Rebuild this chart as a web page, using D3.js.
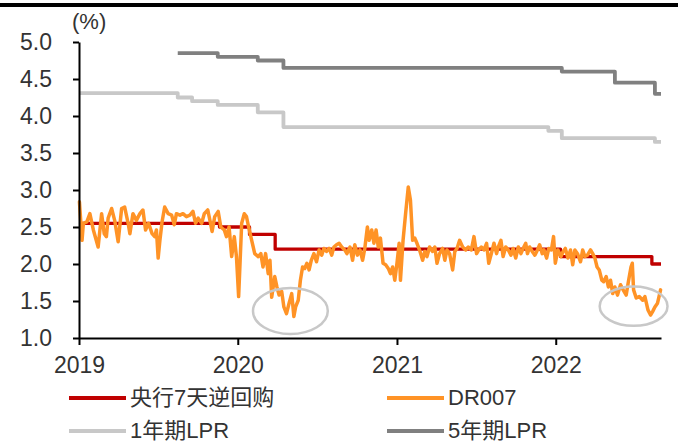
<!DOCTYPE html>
<html>
<head>
<meta charset="utf-8">
<script src="https://cdn.jsdelivr.net/npm/d3@7"></script>
<style>
  html, body { margin: 0; padding: 0; background: #fff; }
  svg { display: block; }
  text { font-family: "Liberation Sans", Arial, "Noto Sans CJK SC", sans-serif; }
</style>
</head>
<body>
<svg id="chart" width="678" height="448"></svg>
<script>
// ---- data -------------------------------------------------------------
const yTickValues = [1.0, 1.5, 2.0, 2.5, 3.0, 3.5, 4.0, 4.5, 5.0];
const xTickYears = ["2019-01-01", "2020-01-01", "2021-01-01", "2022-01-01"];
const xDomain = ["2019-01-01", "2022-08-31"];

// policy rates: [effective date, rate]; last row closes the step at the end of the range
const repo7d = [
  ["2019-01-01", 2.55], ["2019-11-20", 2.50], ["2020-01-28", 2.40],
  ["2020-03-27", 2.20], ["2022-01-12", 2.10], ["2022-08-10", 2.00],
  ["2022-08-31", 2.00]
];
const lpr1y = [
  ["2019-01-01", 4.31], ["2019-08-16", 4.25], ["2019-09-18", 4.20],
  ["2019-11-16", 4.15], ["2020-02-16", 4.05], ["2020-04-15", 3.85],
  ["2021-12-15", 3.80], ["2022-01-15", 3.70], ["2022-08-17", 3.65],
  ["2022-08-31", 3.65]
];
const lpr5y = [
  ["2019-08-16", 4.85], ["2019-11-16", 4.80], ["2020-02-16", 4.75],
  ["2020-04-15", 4.65], ["2022-01-15", 4.60], ["2022-05-17", 4.45],
  ["2022-08-17", 4.30], ["2022-08-31", 4.30]
];

// DR007, weekly observations
const dr007 = [
  ["2019-01-02",2.84],["2019-01-08",2.32],["2019-01-11",2.55],["2019-01-19",2.57],
  ["2019-01-26",2.68],["2019-02-03",2.46],["2019-02-14",2.23],["2019-02-22",2.68],
  ["2019-02-28",2.41],["2019-03-05",2.37],["2019-03-09",2.62],["2019-03-17",2.75],
  ["2019-03-24",2.59],["2019-04-01",2.30],["2019-04-09",2.75],["2019-04-16",2.77],
  ["2019-04-24",2.55],["2019-04-28",2.41],["2019-05-05",2.68],["2019-05-13",2.59],
  ["2019-05-21",2.68],["2019-05-28",2.73],["2019-06-03",2.46],["2019-06-10",2.55],
  ["2019-06-18",2.41],["2019-06-24",2.37],["2019-06-28",2.46],["2019-07-02",2.08],
  ["2019-07-06",2.32],["2019-07-11",2.57],["2019-07-17",2.77],["2019-07-25",2.68],
  ["2019-08-02",2.66],["2019-08-08",2.53],["2019-08-13",2.68],["2019-08-21",2.66],
  ["2019-08-28",2.68],["2019-09-05",2.64],["2019-09-13",2.66],["2019-09-20",2.71],
  ["2019-09-26",2.55],["2019-10-02",2.62],["2019-10-10",2.55],["2019-10-16",2.68],
  ["2019-10-24",2.73],["2019-10-29",2.59],["2019-11-03",2.44],["2019-11-09",2.64],
  ["2019-11-17",2.71],["2019-11-23",2.50],["2019-12-01",2.46],["2019-12-06",2.37],
  ["2019-12-12",2.50],["2019-12-18",2.10],["2019-12-24",2.37],["2019-12-29",2.10],
  ["2020-01-03",1.56],["2020-01-10",2.55],["2020-01-16",2.68],["2020-01-21",2.64],
  ["2020-01-26",2.50],["2020-02-02",2.32],["2020-02-09",2.14],["2020-02-17",2.10],
  ["2020-02-23",2.14],["2020-02-28",1.96],["2020-03-05",2.14],["2020-03-11",1.87],
  ["2020-03-15",2.05],["2020-03-19",1.55],["2020-03-26",1.83],["2020-03-31",1.69],
  ["2020-04-05",1.58],["2020-04-11",1.63],["2020-04-16",1.42],["2020-04-22",1.33],
  ["2020-04-28",1.47],["2020-05-04",1.60],["2020-05-09",1.29],["2020-05-13",1.42],
  ["2020-05-19",1.51],["2020-05-24",1.78],["2020-05-29",1.96],["2020-06-03",1.94],
  ["2020-06-08",2.01],["2020-06-13",1.92],["2020-06-18",2.05],["2020-06-24",2.14],
  ["2020-06-30",2.03],["2020-07-06",2.19],["2020-07-12",2.12],["2020-07-17",2.21],
  ["2020-07-23",2.17],["2020-07-29",2.21],["2020-08-04",2.12],["2020-08-09",2.23],
  ["2020-08-15",2.26],["2020-08-21",2.28],["2020-08-27",2.23],["2020-09-03",2.19],
  ["2020-09-08",2.14],["2020-09-15",2.23],["2020-09-21",2.05],["2020-09-26",2.26],
  ["2020-10-02",2.12],["2020-10-08",2.19],["2020-10-14",2.05],["2020-10-19",2.21],
  ["2020-10-25",2.50],["2020-10-29",2.32],["2020-11-04",2.46],["2020-11-09",2.28],
  ["2020-11-14",2.46],["2020-11-19",2.23],["2020-11-24",2.35],["2020-11-30",2.01],
  ["2020-12-06",1.99],["2020-12-12",1.94],["2020-12-17",1.87],["2020-12-22",1.96],
  ["2020-12-27",1.78],["2021-01-01",2.01],["2021-01-06",2.28],["2021-01-09",1.78],
  ["2021-01-15",2.32],["2021-01-21",2.69],["2021-01-27",3.04],["2021-02-01",2.86],
  ["2021-02-06",2.32],["2021-02-11",2.35],["2021-02-16",2.28],["2021-02-23",2.17],
  ["2021-03-01",2.05],["2021-03-06",2.17],["2021-03-11",2.10],["2021-03-17",2.23],
  ["2021-03-24",2.17],["2021-03-29",2.23],["2021-04-03",2.01],["2021-04-09",2.14],
  ["2021-04-16",2.21],["2021-04-21",2.05],["2021-04-26",2.19],["2021-05-02",2.14],
  ["2021-05-09",1.92],["2021-05-14",2.17],["2021-05-19",2.21],["2021-05-25",2.32],
  ["2021-06-01",2.23],["2021-06-08",2.19],["2021-06-14",2.23],["2021-06-21",2.19],
  ["2021-06-27",2.37],["2021-07-03",2.14],["2021-07-08",2.19],["2021-07-14",2.23],
  ["2021-07-20",2.19],["2021-07-26",2.28],["2021-07-31",2.01],["2021-08-06",2.14],
  ["2021-08-12",2.28],["2021-08-18",2.14],["2021-08-22",2.23],["2021-08-28",2.32],
  ["2021-09-02",2.10],["2021-09-08",2.23],["2021-09-14",2.19],["2021-09-20",2.12],
  ["2021-09-25",2.21],["2021-10-01",2.08],["2021-10-07",2.23],["2021-10-13",2.14],
  ["2021-10-18",2.21],["2021-10-24",2.28],["2021-10-28",2.14],["2021-11-02",2.23],
  ["2021-11-08",2.17],["2021-11-14",2.12],["2021-11-20",2.19],["2021-11-25",2.26],
  ["2021-12-01",2.14],["2021-12-05",2.19],["2021-12-11",2.08],["2021-12-16",2.21],
  ["2021-12-22",2.19],["2021-12-27",2.37],["2021-12-31",2.01],["2022-01-06",2.19],
  ["2022-01-13",2.10],["2022-01-18",2.17],["2022-01-23",2.21],["2022-01-29",2.08],
  ["2022-02-04",2.19],["2022-02-09",1.99],["2022-02-14",2.19],["2022-02-20",2.14],
  ["2022-02-27",2.03],["2022-03-04",2.19],["2022-03-09",2.10],["2022-03-15",2.12],
  ["2022-03-22",2.19],["2022-03-27",2.14],["2022-04-01",2.08],["2022-04-06",1.96],
  ["2022-04-11",1.92],["2022-04-17",1.78],["2022-04-21",1.76],["2022-04-27",1.83],
  ["2022-05-02",1.69],["2022-05-07",1.78],["2022-05-12",1.60],["2022-05-17",1.69],
  ["2022-05-23",1.58],["2022-05-30",1.72],["2022-06-05",1.65],["2022-06-12",1.58],
  ["2022-06-17",1.76],["2022-06-23",1.96],["2022-06-26",2.01],["2022-06-29",1.65],
  ["2022-07-05",1.54],["2022-07-12",1.56],["2022-07-20",1.51],["2022-07-25",1.56],
  ["2022-08-01",1.38],["2022-08-07",1.31],["2022-08-12",1.36],["2022-08-17",1.42],
  ["2022-08-23",1.47],["2022-08-30",1.65]
];

// highlighted low-rate episodes: [centre date, centre rate, half-width in days, half-height in %]
const highlights = [
  ["2020-05-01", 1.365, 86, 0.31],
  ["2022-06-29", 1.43, 78, 0.266]
];

const legendItems = [
  { name: "央行7天逆回购", key: "repo" },
  { name: "DR007", key: "dr" },
  { name: "1年期LPR", key: "lpr1" },
  { name: "5年期LPR", key: "lpr5" }
];

// ---- styles -------------------------------------------------------------
const colors = { repo: "#C00000", dr: "#FF9326", lpr1: "#C8C8C8", lpr5: "#808080" };
const widths = { repo: 3.3, dr: 3.5, lpr1: 3.8, lpr5: 3.8 };

// ---- chart ------------------------------------------------------------
const parse = d3.utcParse("%Y-%m-%d");
const svg = d3.select("#chart");

// heavy rule across the top
svg.append("rect").attr("x", 0).attr("y", 3).attr("width", 678).attr("height", 4).attr("fill", "#000");

const x = d3.scaleUtc().domain(xDomain.map(parse)).range([79, 661]);
const y = d3.scaleLinear().domain([1, 5]).range([338, 42]);

const line = d3.line().x(d => x(parse(d[0]))).y(d => y(d[1]));
const stepLine = d3.line().x(d => x(parse(d[0]))).y(d => y(d[1])).curve(d3.curveStepAfter);

const plot = svg.append("g");
[["lpr1", lpr1y], ["lpr5", lpr5y], ["repo", repo7d]].forEach(([k, data]) => {
  plot.append("path").datum(data).attr("d", stepLine)
    .attr("fill", "none").attr("stroke", colors[k]).attr("stroke-width", widths[k])
    .attr("stroke-linejoin", "round");
});
plot.append("path").datum(dr007).attr("d", line)
  .attr("fill", "none").attr("stroke", colors.dr).attr("stroke-width", widths.dr)
  .attr("stroke-linejoin", "round").attr("stroke-linecap", "round");

// ellipses around the two dips
highlights.forEach(([d, v, dd, dv]) => {
  const c = parse(d);
  const cx = x(c);
  const rx = x(d3.utcDay.offset(c, dd)) - cx;
  const cy = y(v);
  const ry = y(v - dv) - cy;
  svg.append("ellipse").attr("cx", cx).attr("cy", cy).attr("rx", rx).attr("ry", ry)
    .attr("fill", "none").attr("stroke", "#C8C8C8").attr("stroke-width", 2.5);
});

// axes
const yAxis = d3.axisLeft(y).tickValues(yTickValues).tickFormat(d3.format(".1f"))
  .tickSize(6).tickSizeOuter(0).tickPadding(21);
const gy = svg.append("g").attr("transform", "translate(79,0)").call(yAxis);

const xAxis = d3.axisBottom(x).tickValues(xTickYears.map(parse)).tickFormat(d3.utcFormat("%Y"))
  .tickSize(7).tickSizeOuter(0).tickPadding(12);
const gx = svg.append("g").attr("transform", "translate(0,338)").call(xAxis);

[gx, gy].forEach(g => {
  g.selectAll("path.domain").attr("stroke", "#000").attr("stroke-width", 2);
  g.selectAll(".tick line").attr("stroke", "#000").attr("stroke-width", 2);
  g.selectAll(".tick text").attr("fill", "#333").style("font-size", "23px")
    .style("font-family", "'Liberation Sans', Arial, sans-serif");
});

svg.append("text").attr("x", 72).attr("y", 29).attr("fill", "#333")
  .style("font-size", "22px").text("(%)");

// legend, two columns by two rows
const legend = svg.append("g");
const colX = [69, 387];
const rowY = [398, 431];
legendItems.forEach((item, i) => {
  const lx = colX[i % 2], ly = rowY[Math.floor(i / 2)];
  legend.append("line").attr("x1", lx).attr("x2", lx + 57).attr("y1", ly).attr("y2", ly)
    .attr("stroke", colors[item.key]).attr("stroke-width", 4);
  legend.append("text").attr("x", lx + 61).attr("y", ly + 7).attr("fill", "#333")
    .style("font-size", "22px").text(item.name);
});
</script>
</body>
</html>
